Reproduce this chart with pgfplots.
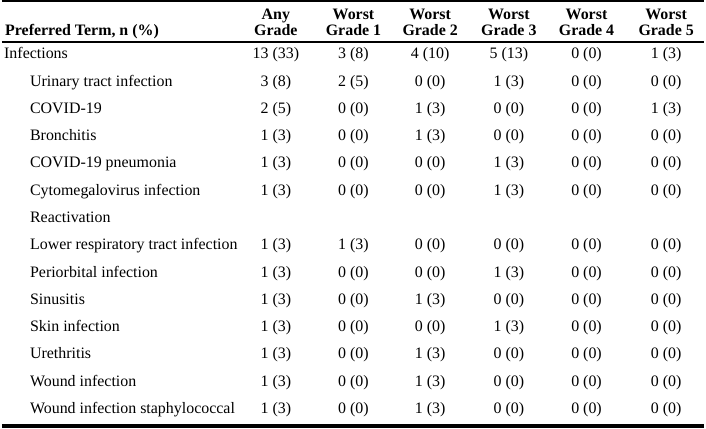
\documentclass[border=0pt]{standalone}
\usepackage{pgfplots}
\usepackage{pgfplotstable}
\pgfplotsset{compat=1.18}
\usepackage{fontspec}
\setmainfont{Liberation Serif}

\pgfplotstableread[col sep=comma, row sep=\\]{
y,x,label\\
59,2,Infections\\
86.4,28,Urinary tract infection\\
113.8,28,COVID-19\\
141.2,28,Bronchitis\\
168.6,28,COVID-19 pneumonia\\
196,28,Cytomegalovirus infection\\
223.4,28,Reactivation\\
250.8,28,Lower respiratory tract infection\\
278.2,28,Periorbital infection\\
305.6,28,Sinusitis\\
333,28,Skin infection\\
360.4,28,Urethritis\\
387.8,28,Wound infection\\
415.2,28,Wound infection staphylococcal\\
}\terms

\pgfplotstableread[col sep=comma, row sep=\\]{
y,c1,c2,c3,c4,c5,c6\\
59,13 (33),3 (8),4 (10),5 (13),0 (0),1 (3)\\
86.4,3 (8),2 (5),0 (0),1 (3),0 (0),0 (0)\\
113.8,2 (5),0 (0),1 (3),0 (0),0 (0),1 (3)\\
141.2,1 (3),0 (0),1 (3),0 (0),0 (0),0 (0)\\
168.6,1 (3),0 (0),0 (0),1 (3),0 (0),0 (0)\\
196,1 (3),0 (0),0 (0),1 (3),0 (0),0 (0)\\
250.8,1 (3),1 (3),0 (0),0 (0),0 (0),0 (0)\\
278.2,1 (3),0 (0),0 (0),1 (3),0 (0),0 (0)\\
305.6,1 (3),0 (0),1 (3),0 (0),0 (0),0 (0)\\
333,1 (3),0 (0),0 (0),1 (3),0 (0),0 (0)\\
360.4,1 (3),0 (0),1 (3),0 (0),0 (0),0 (0)\\
387.8,1 (3),0 (0),1 (3),0 (0),0 (0),0 (0)\\
415.2,1 (3),0 (0),1 (3),0 (0),0 (0),0 (0)\\
}\vals

\pgfplotstableread[col sep=semicolon, row sep=\\]{
x;y;label\\
275;20;Any\\
275;35.5;Grade\\
353;20;Worst\\
353;35.5;Grade 1\\
430;20;Worst\\
430;35.5;Grade 2\\
509;20;Worst\\
509;35.5;Grade 3\\
587;20;Worst\\
587;35.5;Grade 4\\
667;20;Worst\\
667;35.5;Grade 5\\
}\hdr

\pgfplotstableread[col sep=semicolon, row sep=\\]{
x;y;label\\
3;35.5;Preferred Term, n (\%)\\
}\hdrleft

\begin{document}
\begin{tikzpicture}
\begin{axis}[
  scale only axis, width=706pt, height=430pt,
  xmin=0, xmax=706, ymin=0, ymax=430, y dir=reverse,
  hide axis, clip=false,
  txt/.style={draw=none, mark=none, nodes near coords, point meta=explicit symbolic,
    nodes near coords align={anchor=#1},
    every node near coord/.append style={anchor=#1, inner sep=0pt, text=black,
      font=\fontsize{16}{18}\selectfont}},
]
\addplot[draw=none, mark=none] coordinates {(0,0) (706,430)};
% rules
\addplot[black, line width=2pt] coordinates {(0,1) (705,1)};
\addplot[black, line width=2.5pt] coordinates {(0,42) (705,42)};
\addplot[black, line width=4pt] coordinates {(0,428) (705,428)};
% header
\addplot[txt=base west, every node near coord/.append style={font=\fontsize{16}{18}\selectfont\bfseries}] table[x=x, y=y, meta=label] {\hdrleft};
\addplot[txt=base, every node near coord/.append style={font=\fontsize{16}{18}\selectfont\bfseries}] table[x=x, y=y, meta=label] {\hdr};
% terms
\addplot[txt=base west] table[x=x, y=y, meta=label] {\terms};
% values
\addplot[txt=base] table[x expr=275, y=y, meta=c1] {\vals};
\addplot[txt=base] table[x expr=353, y=y, meta=c2] {\vals};
\addplot[txt=base] table[x expr=430, y=y, meta=c3] {\vals};
\addplot[txt=base] table[x expr=509, y=y, meta=c4] {\vals};
\addplot[txt=base] table[x expr=587, y=y, meta=c5] {\vals};
\addplot[txt=base] table[x expr=667, y=y, meta=c6] {\vals};
\end{axis}
\end{tikzpicture}
\end{document}
